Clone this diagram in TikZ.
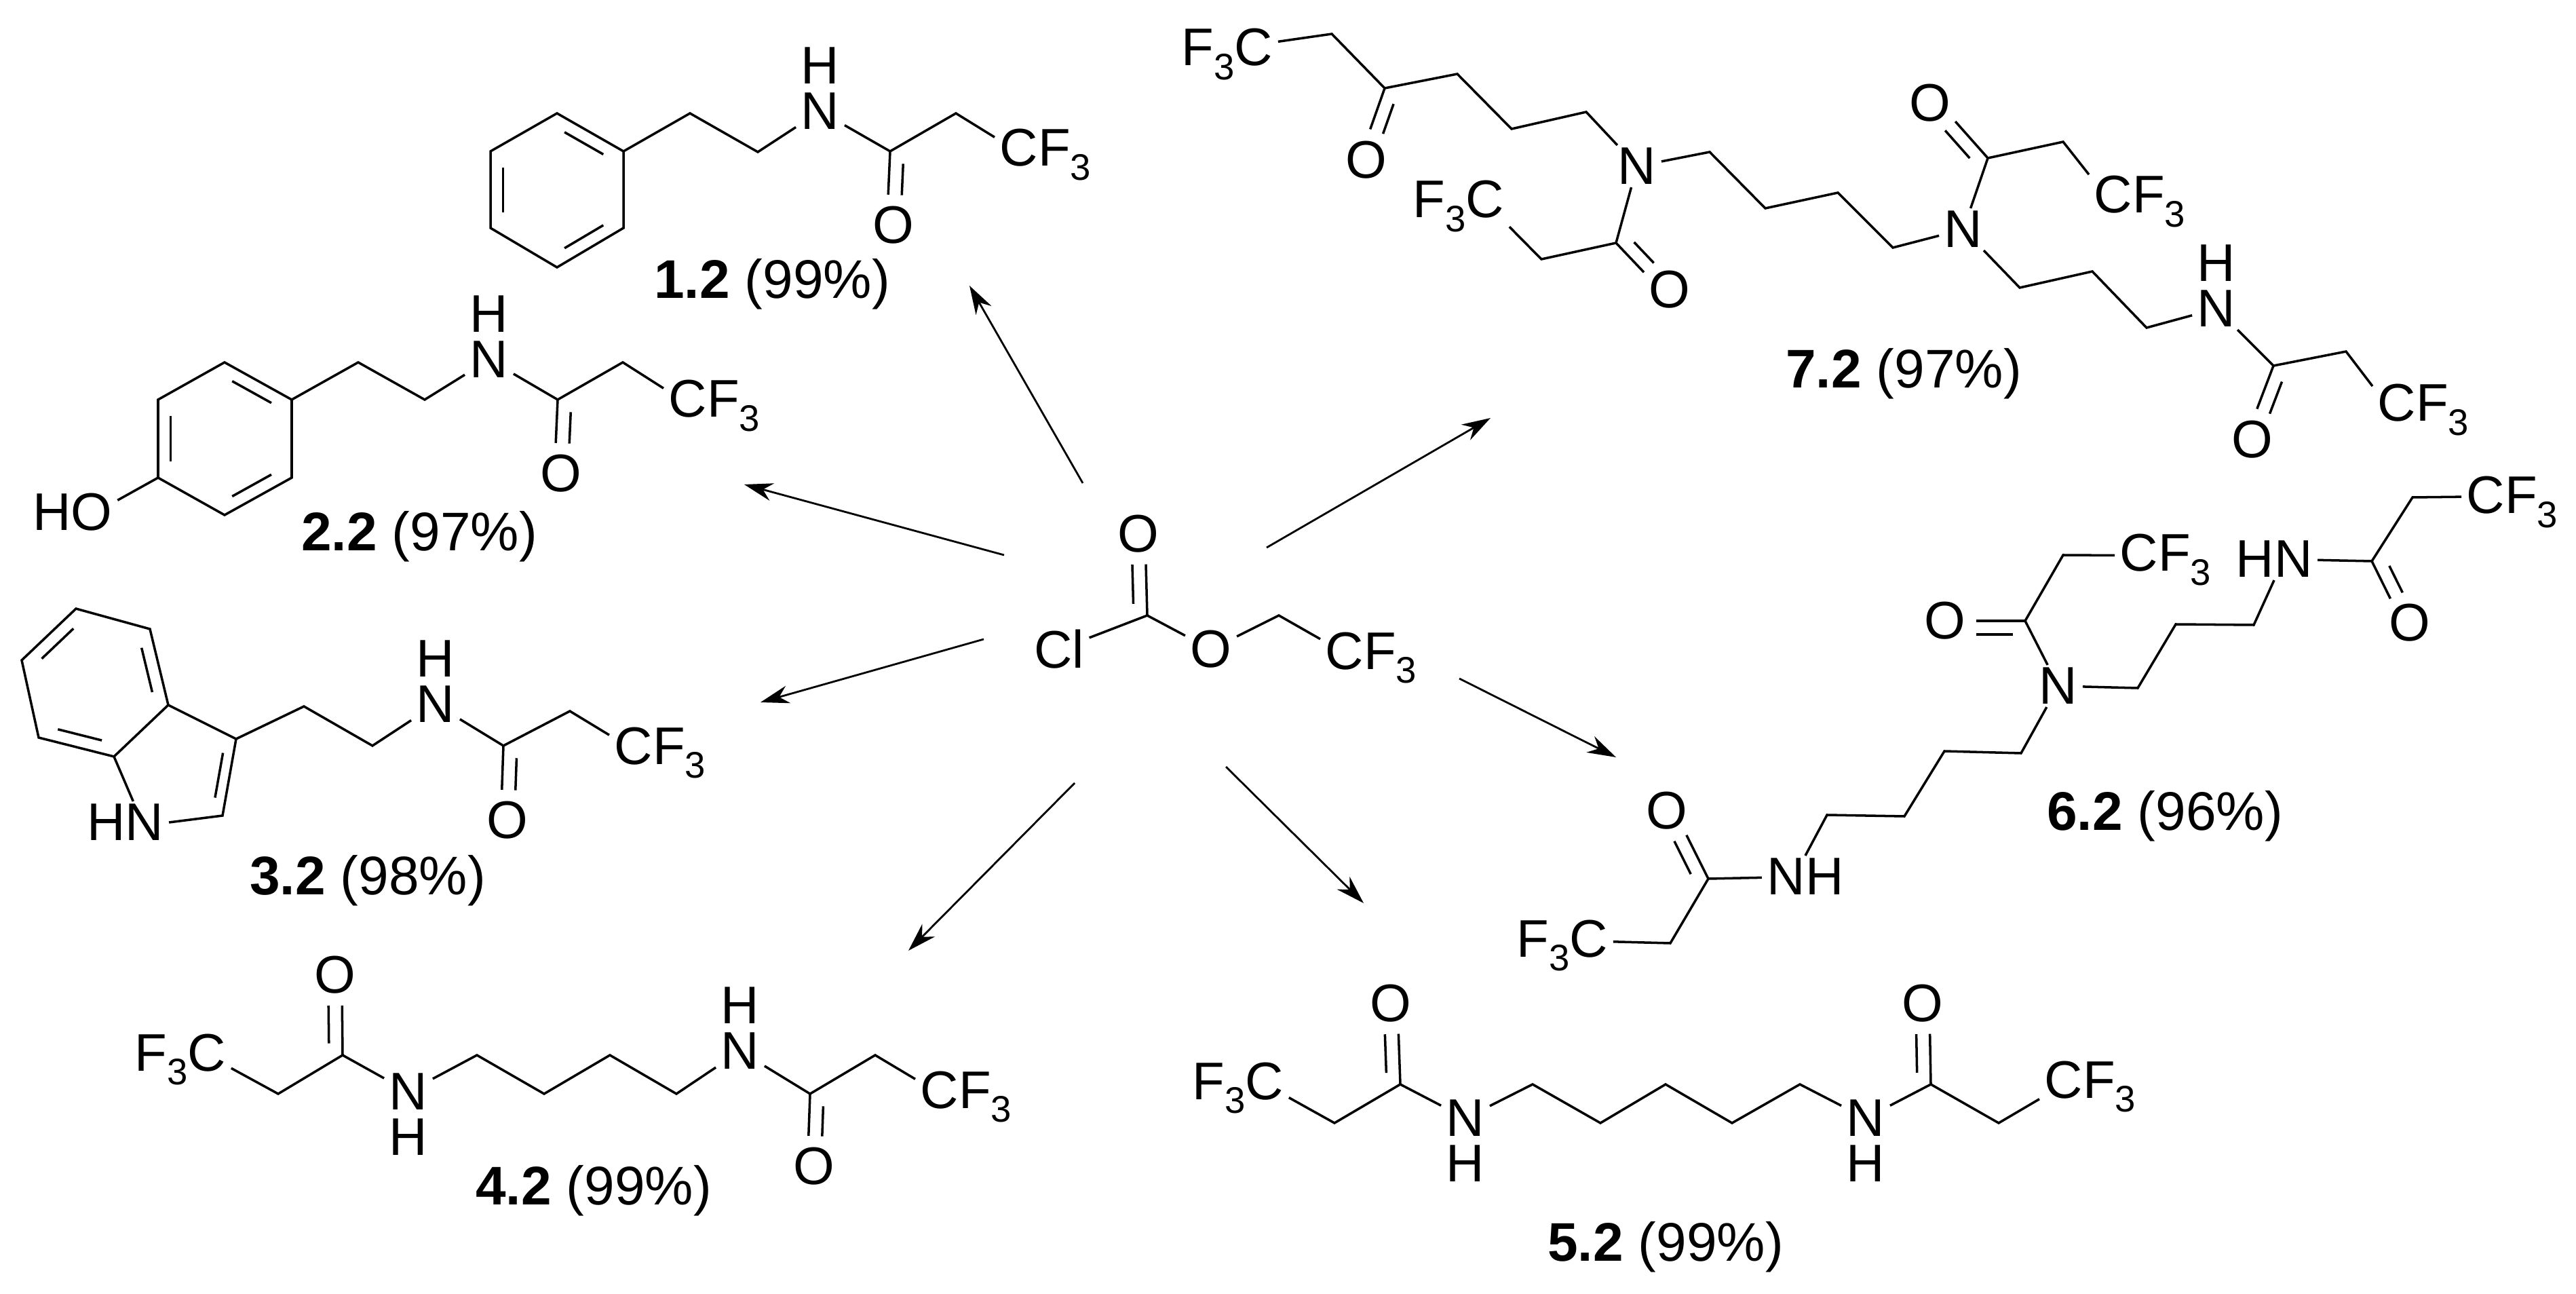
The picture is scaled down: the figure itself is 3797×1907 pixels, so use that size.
\documentclass[tikz,border=0pt]{standalone}
\usepackage{fontspec}
\setmainfont{Liberation Sans}
\usetikzlibrary{positioning}
\usetikzlibrary{calc}
\usetikzlibrary{arrows.meta}

\newcommand{\subthree}{\raisebox{-5.7pt}{\fontsize{15.5}{15}\selectfont 3}}
% second line of a C=O, #2 carbon, #3 oxygen
\newcommand{\dblbond}[3][2.8pt]{
  \coordinate (tip) at ($(#3)!#1!90:(#2)$);
  \draw[bond, shorten >=13pt] (#2) -- (tip);
  \draw[bond, shorten >=13pt, shorten <=5pt] ($(#2)!5.7pt!90:(tip)$) -- ($(tip)!5.7pt!-90:(#2)$);
}
% inner line of a ring bond
\newcommand{\ringbond}[3]{
  \draw[bond] ($(#1)!.14!(#2)!.19!(#3)$) -- ($(#2)!.14!(#1)!.19!(#3)$);
}

\begin{document}
\begin{tikzpicture}[
    x = 0.01cm
    , y = -0.01cm
    , atom/.style = {
      , inner xsep = 2pt
      , inner ysep = 1pt
      , font = \fontsize{22.2}{24}\selectfont
    }
    , group/.style = {
      atom,
      anchor = base west
    }
    , yieldlabel/.style = {
      , inner sep = 0pt
      , font = \fontsize{22.8}{26}\selectfont
    }
    , bond/.style = {
      , line width = 1pt
    }
    , rxn/.style = {
      , -{Stealth[length=12pt, width=7.5pt]}
      , line width = 0.8pt
    }
    , on grid
    , node distance = 0.67cm
    ]
    \useasboundingbox (0,0) rectangle (3797,1907);

    % 1.2
    \foreach \n/\x/\y in {a1/821/167, a2/919/223, a3/919/336, a4/821/394, a5/723/336, a6/723/223,
      ac/821/280, a7/1017/167, a8/1117/224, a9/1312/223, a10/1409/167}
      \coordinate (\n) at (\x,\y);
    \node[atom] (an) at (1209,164) {N};
    \node[atom, above = of an] (ah) {H};
    \node[atom] (ao) at (1317,332) {O};
    \node[group] (af) at (1466,245) {CF\subthree};
    \node[yieldlabel] (al) at (1138,419) {\textbf{1.2} (99\%)};
    \draw[bond] (a1) -- (a2) -- (a3) -- (a4) -- (a5) -- (a6) -- cycle;
    \ringbond{a1}{a2}{ac}
    \ringbond{a3}{a4}{ac}
    \ringbond{a5}{a6}{ac}
    \draw[bond] (a2) -- (a7) -- (a8) -- (an) -- (a9) -- (a10) -- (af.161);
    \dblbond{a9}{ao}

    % 2.2
    \foreach \n/\x/\y in {b1/331/534, b2/430/589, b3/430/704, b4/331/759, b5/233/704, b6/233/589,
      bc/331/647, b7/528/534, b8/626/589, b9/822/589, b10/918/534}
      \coordinate (\n) at (\x,\y);
    \node[atom] (bn) at (721,530) {N};
    \node[atom, above = of bn] (bh) {H};
    \node[atom] (bo) at (827,698) {O};
    \node[group] (bf) at (978,615) {CF\subthree};
    \node[atom] (bho) at (107,755) {HO};
    \node[yieldlabel] (bl) at (618,791) {\textbf{2.2} (97\%)};
    \draw[bond] (b1) -- (b2) -- (b3) -- (b4) -- (b5) -- (b6) -- cycle;
    \ringbond{b1}{b2}{bc}
    \ringbond{b3}{b4}{bc}
    \ringbond{b5}{b6}{bc}
    \draw[bond] (b5) -- (bho.15);
    \draw[bond] (b2) -- (b7) -- (b8) -- (bn) -- (b9) -- (b10) -- (bf.161);
    \dblbond{b9}{bo}

    % 3.2
    \foreach \n/\x/\y in {c1/112/897, c2/32/973, c3/57/1087, c4/168/1115, c5/248/1039, c6/221/927,
      c7/348/1089, c8/328/1202, cc/140/1006, cd/258/1130,
      c9/448/1041, c10/549/1099, c11/742/1099, c12/840/1048}
      \coordinate (\n) at (\x,\y);
    \node[atom] (chn) at (185,1212) {HN};
    \node[atom] (cn) at (642,1038) {N};
    \node[atom, above = of cn] (ch) {H};
    \node[atom] (co) at (748,1209) {O};
    \node[group] (cf) at (898,1126) {CF\subthree};
    \node[yieldlabel] (cl) at (542,1298) {\textbf{3.2} (98\%)};
    \draw[bond] (c1) -- (c2) -- (c3) -- (c4) -- (c5) -- (c6) -- cycle;
    \ringbond{c1}{c2}{cc}
    \ringbond{c3}{c4}{cc}
    \ringbond{c5}{c6}{cc}
    \draw[bond] (c5) -- (c7) -- (c8) -- (chn.east);
    \draw[bond] (c4) -- (chn.70);
    \ringbond{c7}{c8}{cd}
    \draw[bond] (c7) -- (c9) -- (c10) -- (cn) -- (c11) -- (c12) -- (cf.161);
    \dblbond{c11}{co}

    % 4.2
    \foreach \n/\x/\y in {d1/410/1612, d2/505/1555, d3/703/1555, d4/802/1612, d5/899/1555,
      d6/997/1612, d7/1194/1612, d8/1290/1555}
      \coordinate (\n) at (\x,\y);
    \node[group] (df1) at (191,1578) {F\subthree C};
    \node[atom] (do1) at (494,1437) {O};
    \node[atom] (dn1) at (602,1609) {N};
    \node[atom, below = of dn1] (dh1) {H};
    \node[atom] (dn2) at (1091,1549) {N};
    \node[atom, above = of dn2] (dh2) {H};
    \node[atom] (do2) at (1200,1719) {O};
    \node[group] (df2) at (1349,1633) {CF\subthree};
    \node[yieldlabel] (dl) at (875,1755) {\textbf{4.2} (99\%)};
    \draw[bond] (df1.-10) -- (d1) -- (d2) -- (dn1) -- (d3) -- (d4) -- (d5) -- (d6) -- (dn2) -- (d7) -- (d8) -- (df2.161);
    \dblbond{d2}{do1}
    \dblbond{d7}{do2}

    % 5.2
    \foreach \n/\x/\y in {e1/1967/1655, e2/2064/1598, e3/2259/1598, e4/2359/1655, e5/2455/1598,
      e6/2553/1655, e7/2653/1598, e8/2846/1598, e9/2946/1655}
      \coordinate (\n) at (\x,\y);
    \node[group] (ef1) at (1750,1620) {F\subthree C};
    \node[atom] (eo1) at (2050,1479) {O};
    \node[atom] (en1) at (2160,1648) {N};
    \node[atom, below = of en1] (eh1) {H};
    \node[atom] (en2) at (2750,1648) {N};
    \node[atom, below = of en2] (eh2) {H};
    \node[atom] (eo2) at (2834,1479) {O};
    \node[group] (ef2) at (3006,1618) {CF\subthree};
    \node[yieldlabel] (el) at (2455,1838) {\textbf{5.2} (99\%)};
    \draw[bond] (ef1.-11) -- (e1) -- (e2) -- (en1) -- (e3) -- (e4) -- (e5) -- (e6) -- (e7) -- (en2) -- (e8) -- (e9) -- (ef2.194);
    \dblbond{e2}{eo1}
    \dblbond{e8}{eo2}

    % 6.2
    \foreach \n/\x/\y in {f1/2462/1390, f2/2518/1295, f3/2693/1201, f4/2807/1203, f5/2866/1107,
      f6/2979/1110, f7/3151/1014, f8/3207/920, f9/3322/921, f10/3496/827, f11/3556/733,
      f12/2985/915, f13/3041/818}
      \coordinate (\n) at (\x,\y);
    \node[group] (ff1) at (2228,1410) {F\subthree C};
    \node[atom] (fo1) at (2457,1195) {O};
    \node[atom] (fnh) at (2661,1292) {NH};
    \node[atom] (fn) at (3034,1011) {N};
    \node[atom] (fo2) at (2867,915) {O};
    \node[group] (ff2) at (3117,842) {CF\subthree};
    \node[atom] (fhn) at (3352,824) {HN};
    \node[atom] (fo3) at (3552,918) {O};
    \node[group] (ff3) at (3628,757) {CF\subthree};
    \node[yieldlabel] (fl) at (3191,1203) {\textbf{6.2} (96\%)};
    \draw[bond] (ff1.4) -- (f1) -- (f2) -- (fnh);
    \draw[bond] (fnh.north) -- (f3) -- (f4) -- (f5) -- (f6) -- (fn) -- (f12) -- (f13) -- (ff2.175);
    \draw[bond] (fn) -- (f7) -- (f8) -- (f9) -- (fhn.south);
    \draw[bond] (fhn) -- (f10) -- (f11) -- (ff3.174);
    \dblbond{f2}{fo1}
    \dblbond[0pt]{f12}{fo2}
    \dblbond{f10}{fo3}

    % 7.2
    \foreach \n/\x/\y in {g1/1963/50, g2/2041/130, g3/2148/109, g4/2228/190, g5/2338/165,
      g6/2382/358, g7/2272/382, g8/2520/224, g9/2602/307, g10/2709/284, g11/2790/365,
      g12/2930/233, g13/3041/209, g14/2977/424, g15/3084/400, g16/3164/483, g17/3351/539, g18/3458/518}
      \coordinate (\n) at (\x,\y);
    \node[group] (gf1) at (1734,97) {F\subthree C};
    \node[atom] (go1) at (2014,236) {O};
    \node[atom] (gn1) at (2413,245) {N};
    \node[group] (gf2) at (2075,321) {F\subthree C};
    \node[atom] (go2) at (2461,427) {O};
    \node[atom] (gn2) at (2894,338) {N};
    \node[atom] (go3) at (2845,152) {O};
    \node[group] (gf3) at (3079,314) {CF\subthree};
    \node[atom] (gn3) at (3267,455) {N};
    \node[atom, above = of gn3] (gh) {H};
    \node[atom] (go4) at (3320,648) {O};
    \node[group] (gf4) at (3497,621) {CF\subthree};
    \node[yieldlabel] (gl) at (2806,551) {\textbf{7.2} (97\%)};
    \draw[bond] (gf1.14) -- (g1) -- (g2) -- (g3) -- (g4) -- (g5) -- (gn1) -- (g8) -- (g9) -- (g10) -- (g11) -- (gn2) -- (g12) -- (g13) -- (gf3.152);
    \draw[bond] (gn1) -- (g6) -- (g7) -- (gf2.-22);
    \draw[bond] (gn2) -- (g14) -- (g15) -- (g16) -- (gn3) -- (g17) -- (g18) -- (gf4.155);
    \dblbond{g2}{go1}
    \dblbond{g6}{go2}
    \dblbond{g12}{go3}
    \dblbond{g17}{go4}

    % reagent
    \coordinate (r1) at (1691,907);
    \coordinate (r2) at (1885,907);
    \node[atom] (rcl) at (1561,957) {Cl};
    \node[atom] (ro1) at (1678,787) {O};
    \node[atom] (ro2) at (1785,957) {O};
    \node[group] (rf) at (1946,986) {CF\subthree};
    \draw[bond] (rcl) -- (r1) -- (ro2) -- (r2) -- (rf.160);
    \dblbond{r1}{ro1}

    % arrows to the products
    \foreach \i/\sx/\sy/\tx/\ty in {1/1596/712/1429/421, 2/1480/818/1097/714, 3/1450/942/1121/1035,
      4/1584/1154/1339/1401, 5/1807/1130/2010/1331, 6/2151/1000/2382/1116, 7/1867/807/2197/616}
    {
      \coordinate (from\i) at (\sx,\sy);
      \coordinate (to\i) at (\tx,\ty);
      \draw[rxn] (from\i) -- (to\i);
    }
\end{tikzpicture}
\end{document}
